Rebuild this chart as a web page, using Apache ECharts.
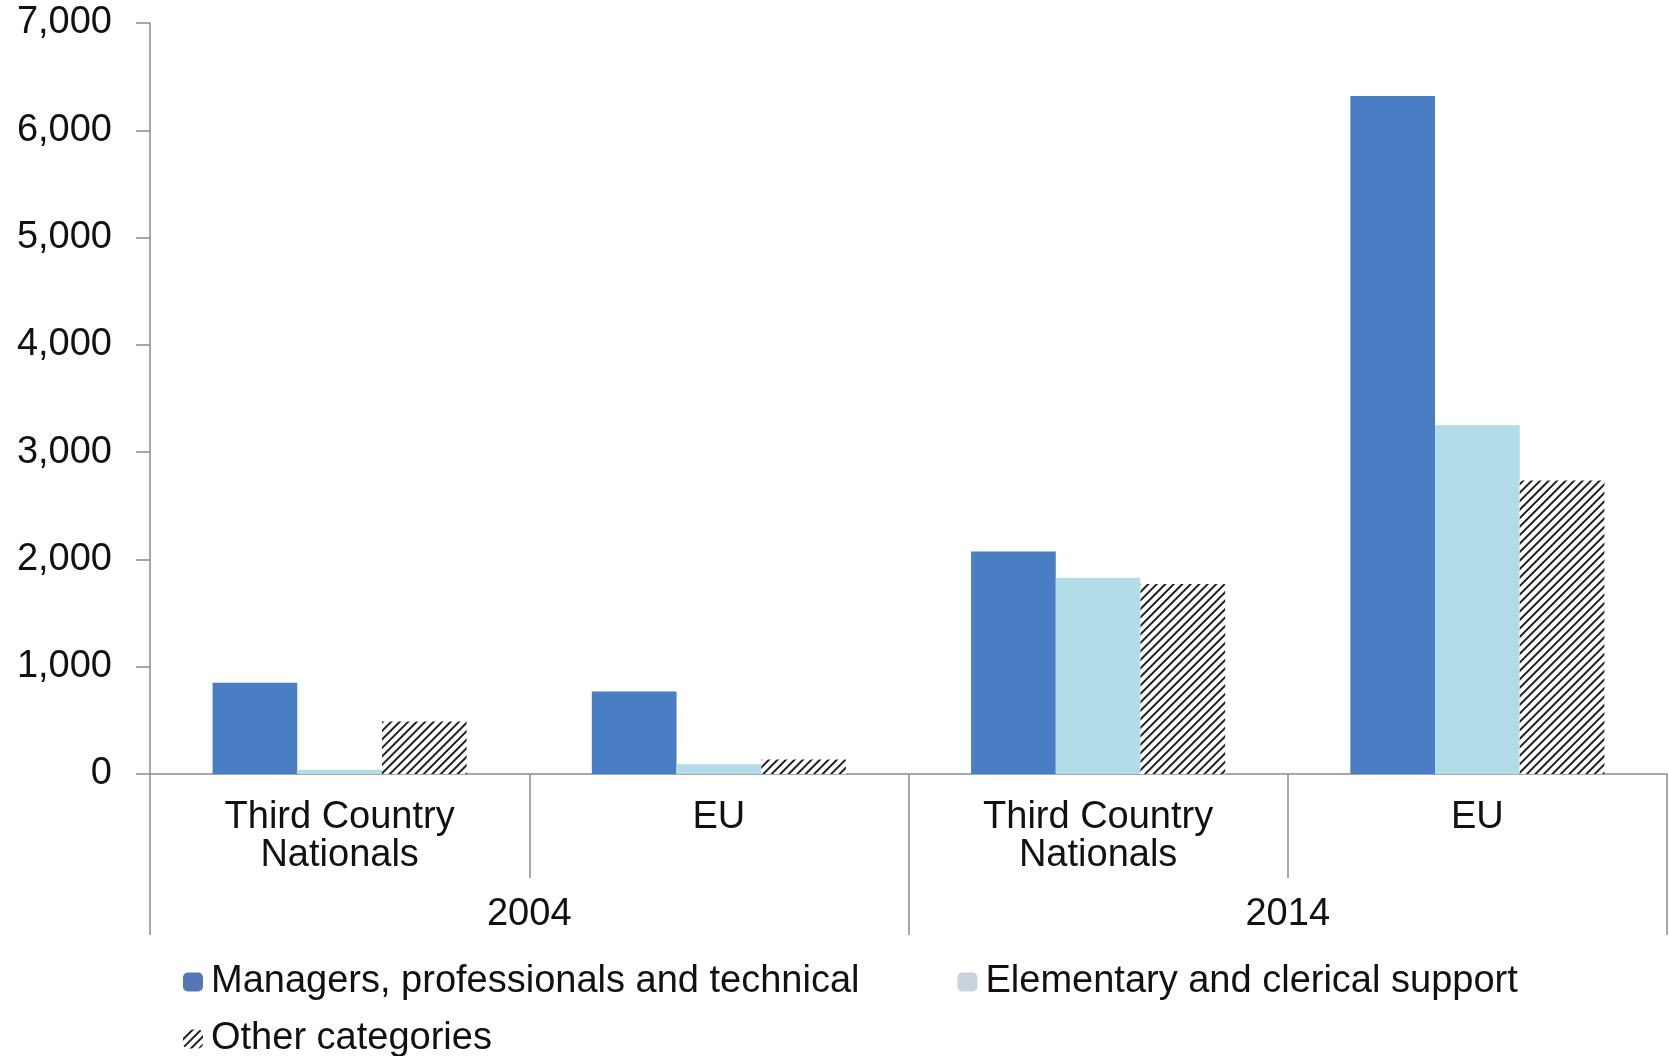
<!DOCTYPE html>
<html>
<head>
<meta charset="utf-8">
<script src="https://cdn.jsdelivr.net/npm/echarts@6/dist/echarts.min.js"></script>
<style>
html,body{margin:0;padding:0;background:#fff;}
#chart{width:1669px;height:1056px;}
</style>
</head>
<body>
<div id="chart"></div>
<script>
const groups = ['Third Country\nNationals', 'EU', 'Third Country\nNationals', 'EU'];
const years = ['2004', '2014'];
const yTicks = [0, 1000, 2000, 3000, 4000, 5000, 6000, 7000];
const seriesNames = ['Managers, professionals and technical', 'Elementary and clerical support', 'Other categories'];
const managers = [850, 770, 2075, 6320];
const elementary = [40, 90, 1830, 3250];
const other = [490, 135, 1770, 2735];

const FONT = 'Liberation Sans, Arial, sans-serif';
const FS = 38;
const chart = echarts.init(document.getElementById('chart'));
const axisGray = '#8c8c8c';
const legendText = { fontSize: FS, color: '#111', fontFamily: FONT, padding: [0, 0, 0, 3] };

chart.setOption({
  animation: false,
  backgroundColor: '#ffffff',
  textStyle: { fontFamily: FONT },
  grid: { left: 150, right: 2, top: 23, bottom: 282, containLabel: false },
  legend: [
    {
      data: [
        { name: seriesNames[0], itemStyle: { color: '#5577b5' } },
        { name: seriesNames[1], itemStyle: { color: '#c8d3db' } }
      ],
      left: 178, top: 958, itemGap: 98, itemWidth: 20, itemHeight: 19,
      textStyle: legendText
    },
    {
      data: [seriesNames[2]],
      left: 178, top: 1015, itemWidth: 20, itemHeight: 19,
      textStyle: legendText
    }
  ],
  xAxis: [
    {
      type: 'category', data: groups, position: 'bottom',
      axisLine: { show: true, lineStyle: { color: axisGray, width: 1.5 } },
      axisTick: { show: true, length: 104, interval: 0, lineStyle: { color: axisGray, width: 1.5 } },
      axisLabel: { interval: 0, margin: 25, fontSize: FS, lineHeight: 38, color: '#111', fontFamily: FONT }
    },
    {
      type: 'category', data: years, position: 'bottom',
      axisLine: { show: false },
      axisTick: { show: true, length: 161, interval: 0, lineStyle: { color: axisGray, width: 1.5 } },
      axisLabel: { interval: 0, margin: 122, fontSize: FS, lineHeight: 38, color: '#111', fontFamily: FONT }
    }
  ],
  yAxis: {
    type: 'value', min: yTicks[0], max: yTicks[yTicks.length - 1], interval: 1000,
    axisLine: { show: true, lineStyle: { color: axisGray, width: 1.5 } },
    axisTick: { show: true, length: 14, lineStyle: { color: axisGray, width: 1.5 } },
    splitLine: { show: false },
    axisLabel: {
      margin: 38, fontSize: FS, color: '#111', fontFamily: FONT,
      formatter: v => v.toLocaleString('en-US')
    }
  },
  series: [
    {
      name: seriesNames[0], type: 'bar', data: managers, xAxisIndex: 0,
      barGap: '0%', barCategoryGap: '33%',
      itemStyle: { color: '#4a7ec4' }
    },
    {
      name: seriesNames[1], type: 'bar', data: elementary, xAxisIndex: 0,
      barGap: '0%', barCategoryGap: '33%',
      itemStyle: { color: '#b2dce8' }
    },
    {
      name: seriesNames[2], type: 'bar', data: other, xAxisIndex: 0,
      barGap: '0%', barCategoryGap: '33%',
      itemStyle: {
        color: '#ffffff',
        decal: {
          symbol: 'rect', color: '#222222', backgroundColor: '#ffffff',
          dashArrayX: [1, 0], dashArrayY: [2, 4], rotation: -Math.PI / 4
        }
      }
    }
  ]
});
</script>
</body>
</html>
